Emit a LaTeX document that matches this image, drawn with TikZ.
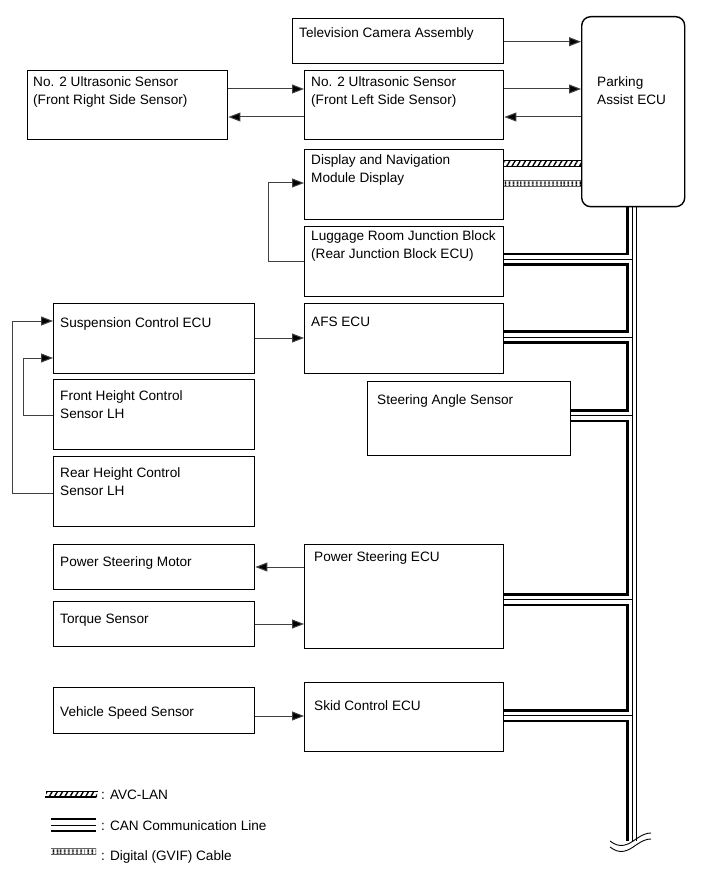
\documentclass[tikz,border=0pt]{standalone}
\usepackage{fontspec}
\setmainfont{Liberation Sans}
\usetikzlibrary{arrows.meta,patterns.meta}
\tikzset{
  box/.style={draw, line width=1.4pt, anchor=north west, inner sep=0pt},
  txt/.style={anchor=base west, inner sep=0pt, align=left, font=\fontsize{13.6}{17.7}\selectfont},
  sig/.style={draw=black!75, line width=1pt, -{Triangle[length=12pt,width=9pt,fill=black]}},
  canl/.style={line width=2.6pt},
  canm/.style={line width=1pt},
  canr/.style={line width=1.8pt},
  avc/.style={pattern={Lines[angle=60,distance=4.5pt,line width=1.4pt]}},
  gvif/.style={pattern={Lines[angle=90,distance=4pt,line width=1.8pt]}}
}
\begin{document}
\begin{tikzpicture}[x=1pt,y=1pt,yscale=-1]
\useasboundingbox (0,0) rectangle (713,882);

%Boxes
\node[box, minimum width=211pt, minimum height=45pt] (tv) at (292,18) {};
\node[box, minimum width=200pt, minimum height=69pt] (usr) at (27,70) {};
\node[box, minimum width=199pt, minimum height=69pt] (usl) at (304,70) {};
\node[box, minimum width=103pt, minimum height=190pt, rounded corners=9pt] (ecu) at (581,16) {};
\node[box, minimum width=199pt, minimum height=70pt] (disp) at (304,149) {};
\node[box, minimum width=199pt, minimum height=70pt] (lug) at (304,226) {};
\node[box, minimum width=201pt, minimum height=70pt] (susp) at (53,303) {};
\node[box, minimum width=201pt, minimum height=70pt] (fhs) at (53,379) {};
\node[box, minimum width=201pt, minimum height=70pt] (rhs) at (53,456) {};
\node[box, minimum width=199pt, minimum height=70pt] (afs) at (304,303) {};
\node[box, minimum width=203pt, minimum height=74pt] (sas) at (367,381) {};
\node[box, minimum width=201pt, minimum height=45pt] (psm) at (53,544) {};
\node[box, minimum width=201pt, minimum height=45pt] (tq) at (53,601) {};
\node[box, minimum width=199pt, minimum height=104pt] (pse) at (304,544) {};
\node[box, minimum width=201pt, minimum height=46pt] (vss) at (53,687) {};
\node[box, minimum width=199pt, minimum height=69pt] (skid) at (304,682) {};

% Text Node (two line texts sit on the baseline of their last line)
\node[txt] (tv-t) at (299,37.4) {Television Camera Assembly};
\node[txt] (usr-t) at (33,104.7) {No. 2 Ultrasonic Sensor\\(Front Right Side Sensor)};
\node[txt] (usl-t) at (311,104.7) {No. 2 Ultrasonic Sensor\\(Front Left Side Sensor)};
\node[txt] (ecu-t) at (597,104.1) {Parking\\Assist ECU};
\node[txt] (disp-t) at (311,182.4) {Display and Navigation\\Module Display};
\node[txt] (lug-t) at (311,258.7) {Luggage Room Junction Block\\(Rear Junction Block ECU)};
\node[txt] (susp-t) at (60,327) {Suspension Control ECU};
\node[txt] (fhs-t) at (60,418.1) {Front Height Control\\Sensor LH};
\node[txt] (rhs-t) at (60,495.4) {Rear Height Control\\Sensor LH};
\node[txt] (afs-t) at (311,326) {AFS ECU};
\node[txt] (sas-t) at (377,404) {Steering Angle Sensor};
\node[txt] (psm-t) at (60,566) {Power Steering Motor};
\node[txt] (tq-t) at (60,623) {Torque Sensor};
\node[txt] (pse-t) at (314,561) {Power Steering ECU};
\node[txt] (vss-t) at (60,716) {Vehicle Speed Sensor};
\node[txt] (skid-t) at (314,710) {Skid Control ECU};

%Signal lines
\draw[sig] (tv.east |- 0,41.7) -- (ecu.west |- 0,41.7);
\draw[sig] (usr.east |- 0,89) -- (usl.west |- 0,89);
\draw[sig] (usl.west |- 0,117) -- (usr.east |- 0,117);
\draw[sig] (usl.east |- 0,89) -- (ecu.west |- 0,89);
\draw[sig] (ecu.west |- 0,117) -- (usl.east |- 0,117);
\draw[sig] (lug.west |- 0,262) -- ++(-36,0) |- (disp.west |- 0,183);
\draw[sig] (susp.east |- 0,338) -- (afs.west |- 0,338);
\draw[sig] (rhs.west |- 0,493) -- ++(-41,0) |- (susp.west |- 0,321);
\draw[sig] (fhs.west |- 0,415) -- ++(-30,0) |- (susp.west |- 0,358);
\draw[sig] (pse.west |- 0,567) -- (psm.east |- 0,567);
\draw[sig] (tq.east |- 0,624) -- (pse.west |- 0,624);
\draw[sig] (vss.east |- 0,716) -- (skid.west |- 0,716);

%AVC-LAN and GVIF
\fill[avc] (disp.east |- 0,160.7) rectangle (ecu.west |- 0,166.7);
\draw[line width=0.7pt] (disp.east |- 0,160.7) -- (ecu.west |- 0,160.7);
\draw[line width=1.1pt] (disp.east |- 0,166.7) -- (ecu.west |- 0,166.7);
\fill[gvif] (disp.east |- 0,180.7) rectangle (ecu.west |- 0,186);
\draw[line width=0.7pt, black!60] (disp.east |- 0,180.7) -- (ecu.west |- 0,180.7);
\draw[line width=0.7pt, black!60] (disp.east |- 0,186) -- (ecu.west |- 0,186);

%CAN bus
\coordinate (bL) at (627.5,206);
\coordinate (bM) at (632.5,206);
\coordinate (bR) at (636.5,206);
\draw[canr] (bR) -- (636.5,841);
\draw[canm] (bM) -- (632.5,841);
\draw[canm] (lug.east |- 0,259.5) -- (632.5,259.5);
\draw[canm] (afs.east |- 0,337) -- (632.5,337);
\draw[canm] (sas.east |- 0,415.5) -- (632.5,415.5);
\draw[canm] (pse.east |- 0,599.5) -- (632.5,599.5);
\draw[canm] (skid.east |- 0,715.7) -- (632.5,715.7);
\draw[canl] (bL) -- (627.5,254.2) -- (lug.east |- 0,254.2);
\draw[canl] (lug.east |- 0,264.8) -- (627.5,264.8) -- (627.5,331.7) -- (afs.east |- 0,331.7);
\draw[canl] (afs.east |- 0,342.3) -- (627.5,342.3) -- (627.5,410.2) -- (sas.east |- 0,410.2);
\draw[canl] (sas.east |- 0,420.8) -- (627.5,420.8) -- (627.5,594.2) -- (pse.east |- 0,594.2);
\draw[canl] (pse.east |- 0,604.8) -- (627.5,604.8) -- (627.5,710.4) -- (skid.east |- 0,710.4);
\draw[canl] (skid.east |- 0,721) -- (627.5,721) -- (627.5,841);
%break mark
\draw[line width=0.9pt] (610,841) .. controls (620,849) and (628,845) .. (636,839) .. controls (642,835) and (646,833) .. (651,833);
\draw[line width=0.9pt] (610,847) .. controls (620,855) and (628,851) .. (636,845) .. controls (642,841) and (646,839) .. (651,839);

%Legend
\fill[avc] (46,791) rectangle (97,797);
\draw[line width=0.7pt] (46,791) -- (98,791);
\draw[line width=1.1pt] (45,797) -- (96,797);
\draw[canl] (51,819) -- (96,819);
\draw[canm] (51,825) -- (96,825);
\draw[canl] (51,831) -- (96,831);
\fill[gvif] (51,848) rectangle (96,854);
\draw[line width=0.7pt, black!60] (51,848) -- (96,848);
\draw[line width=0.7pt, black!60] (51,854) -- (96,854);
\node[txt] (avc-t) at (101,799) {: AVC-LAN};
\node[txt] (can-t) at (101,830) {: CAN Communication Line};
\node[txt] (gvif-t) at (101,860) {: Digital (GVIF) Cable};
\end{tikzpicture}
\end{document}
